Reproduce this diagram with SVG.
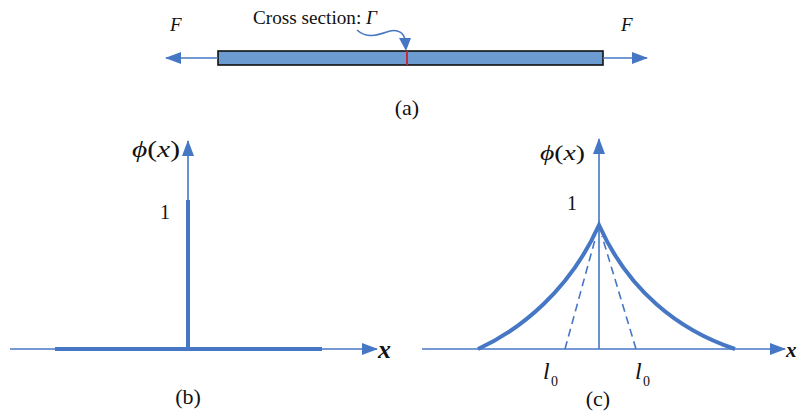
<svg xmlns="http://www.w3.org/2000/svg" width="799" height="417" viewBox="0 0 799 417">
<defs>
<style>
.ax{stroke:#4677c5;stroke-width:1.6;fill:none}
.thick{stroke:#4677c5;stroke-width:4;fill:none}
.dash{stroke:#4677c5;stroke-width:1.6;fill:none;stroke-dasharray:8 5}
.t{font-family:"Liberation Serif","Times New Roman",serif;fill:#111}
.it{font-style:italic}
</style>
<marker id="ah" viewBox="0 0 16 12" refX="15" refY="6" markerWidth="16" markerHeight="12" markerUnits="userSpaceOnUse" orient="auto">
<path d="M0,0 L16,6 L0,12 Z" fill="#4677c5"/>
</marker>
</defs>
<rect width="799" height="417" fill="#fff"/>

<g id="panel-a">
<g id="bar">
<rect x="218" y="51" width="385" height="14" fill="#6b9bd1" stroke="#111" stroke-width="1.6"/>
<line x1="407" y1="51" x2="407" y2="65" stroke="#d0202a" stroke-width="1.8"/>
</g>
<g id="forces">
<line class="ax" x1="218" y1="58" x2="166" y2="58" marker-end="url(#ah)"/>
<line class="ax" x1="603" y1="58" x2="647" y2="58" marker-end="url(#ah)"/>
<path class="ax" d="M357,30 C368,40 380,34 390,31 C398,29 404,33 405,40" stroke-width="1.8"/>
<path d="M399,38 L411,38 L406,51 Z" fill="#4677c5"/>
</g>
<text class="t it" x="170" y="31" font-size="19">F</text>
<text class="t it" x="621" y="31" font-size="19">F</text>
<text class="t" x="253" y="24" font-size="18" textLength="124" lengthAdjust="spacingAndGlyphs">Cross section: <tspan class="it">Γ</tspan></text>
<text class="t" x="407" y="115" font-size="22" text-anchor="middle">(a)</text>
</g>

<g id="panel-b">
<line class="ax" x1="10" y1="349" x2="377" y2="349" marker-end="url(#ah)"/>
<line class="ax" x1="188" y1="349" x2="188" y2="141" marker-end="url(#ah)"/>
<line class="thick" x1="55" y1="349" x2="322" y2="349"/>
<line class="thick" x1="188" y1="351" x2="188" y2="200"/>
<text class="t" x="132" y="157" font-size="23" textLength="48" lengthAdjust="spacingAndGlyphs"><tspan class="it">ϕ</tspan>(<tspan class="it">x</tspan>)</text>
<text class="t" x="160" y="219" font-size="20">1</text>
<text class="t it" x="378" y="358" font-size="26" font-weight="bold">x</text>
<text class="t" x="188" y="404" font-size="22" text-anchor="middle">(b)</text>
</g>

<g id="panel-c">
<line class="ax" x1="422" y1="349" x2="785" y2="349" marker-end="url(#ah)"/>
<line class="ax" x1="599" y1="349" x2="599" y2="139" marker-end="url(#ah)"/>
<line class="dash" x1="565" y1="349" x2="596" y2="236"/>
<line class="dash" x1="636" y1="349" x2="602" y2="236"/>
<path class="thick" d="M478,349 C520,330 570,290 599,225 C628,290 678,330 735,349" stroke-linejoin="miter"/>
<text class="t" x="540" y="160" font-size="21" textLength="45" lengthAdjust="spacingAndGlyphs"><tspan class="it">ϕ</tspan>(<tspan class="it">x</tspan>)</text>
<text class="t" x="567" y="210" font-size="20">1</text>
<text class="t it" x="786" y="357" font-size="21" font-weight="bold">x</text>
<text class="t it" x="543" y="379" font-size="24">l</text>
<text class="t" x="551" y="386" font-size="14">0</text>
<text class="t it" x="635" y="379" font-size="24">l</text>
<text class="t" x="643" y="386" font-size="14">0</text>
<text class="t" x="598" y="406" font-size="22" text-anchor="middle">(c)</text>
</g>
</svg>
